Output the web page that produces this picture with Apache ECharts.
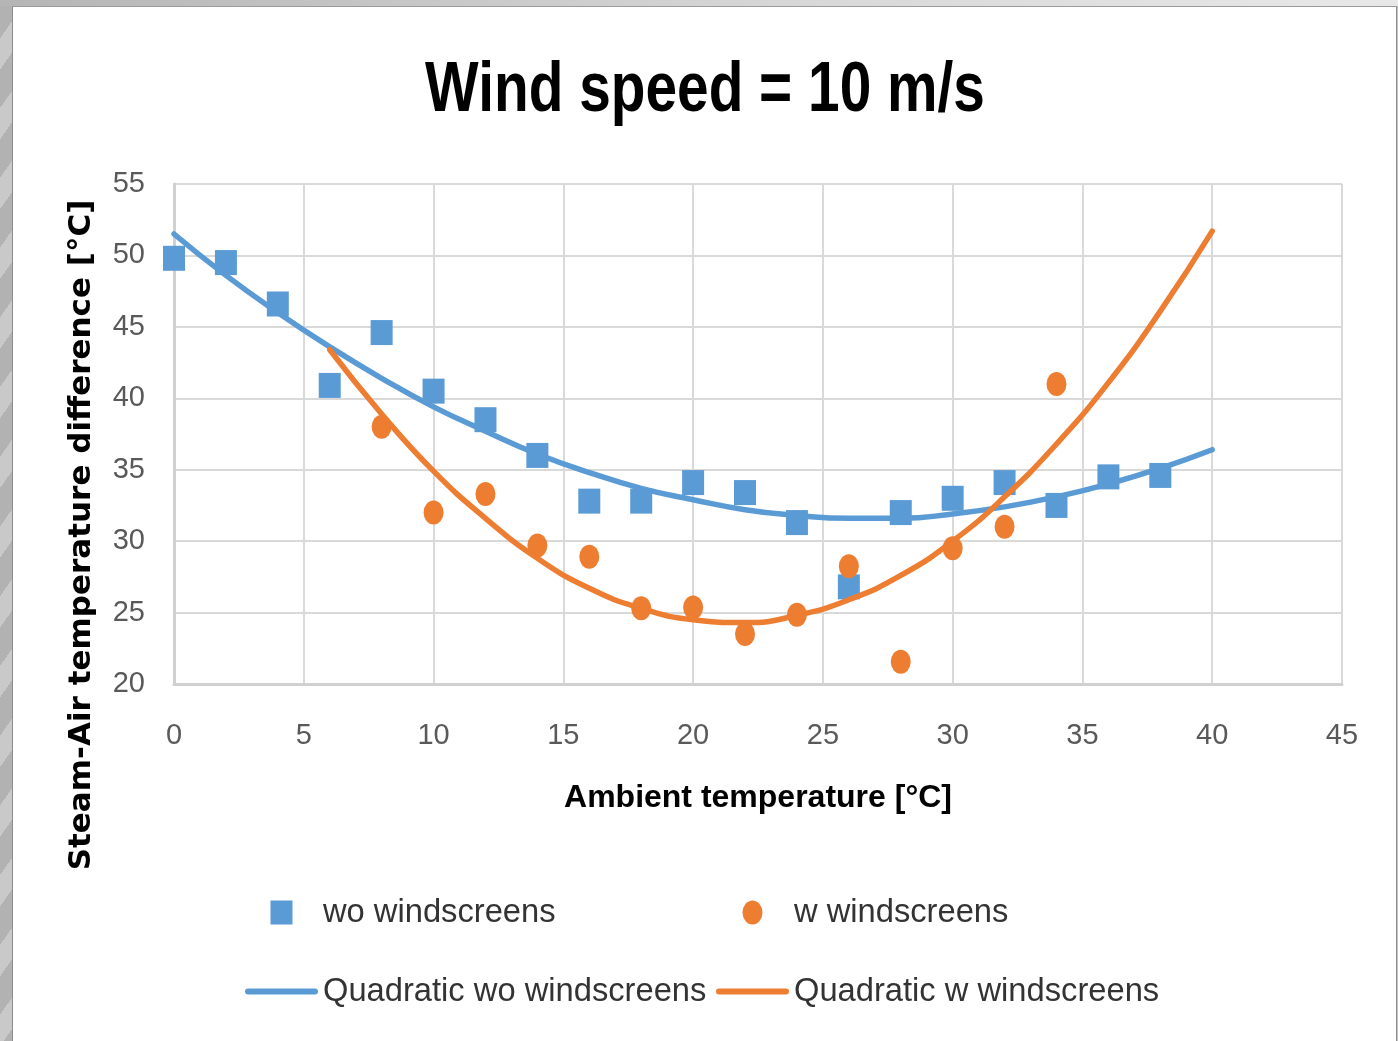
<!DOCTYPE html>
<html>
<head>
<meta charset="utf-8">
<script src="https://cdn.jsdelivr.net/npm/echarts@6/dist/echarts.min.js"></script>
<style>
  html, body { margin:0; padding:0; }
  body { width:1398px; height:1041px; overflow:hidden; position:relative; background:#c4c4c4; }
  #leftband { position:absolute; left:0; top:0; width:12px; height:1041px;
    background: repeating-linear-gradient(125deg, #b2b2b2 0px, #b2b2b2 22px, #c9c9c9 22px, #c9c9c9 40px); }
  #topband { position:absolute; left:0; top:0; width:1398px; height:6px;
    background: linear-gradient(to right, #b5b5b5, #d9d9d9 60%, #e8e8e8); }
  #frame { position:absolute; left:12px; top:6px; width:1385px; height:1035px; background:#fff;
    border-left:1px solid #8c8c8c; border-top:1px solid #9a9a9a; border-right:1px solid #8c8c8c; box-sizing:border-box; }
  #chart { position:absolute; left:0; top:0; width:1398px; height:1041px; }
</style>
</head>
<body>
<div id="leftband"></div>
<div id="topband"></div>
<div id="frame"></div>
<div id="chart"></div>
<script>
// ---- data ----
const xTicksMin = 0, xTicksMax = 45, xTickStep = 5;
const yTicksMin = 20, yTicksMax = 55, yTickStep = 5;

const woX = [0, 2, 4, 6, 8, 10, 12, 14, 16, 18, 20, 22, 24, 26, 28, 30, 32, 34, 36, 38];
const woY = [49.8, 49.5, 46.6, 40.9, 44.6, 40.5, 38.5, 36.0, 32.8, 32.8, 34.1, 33.4, 31.3, 26.8, 32.0, 33.0, 34.1, 32.5, 34.5, 34.6];

const wX = [8, 10, 12, 14, 16, 18, 20, 22, 24, 26, 28, 30, 32, 34];
const wY = [38.0, 32.0, 33.3, 29.7, 28.9, 25.3, 25.35, 23.5, 24.85, 28.25, 21.55, 29.5, 31.0, 41.0];

// trend lines
const fitWoX = [0, 2, 4, 6, 8, 10, 12, 14, 16, 18, 20, 22, 24, 26, 28, 30, 32, 34, 36, 38, 40];
const fitWoY = [51.5, 48.6, 46.0, 43.6, 41.4, 39.4, 37.7, 36.1, 34.8, 33.7, 32.9, 32.2, 31.8, 31.6, 31.6, 31.9, 32.4, 33.1, 34.0, 35.1, 36.4];

const fitWX = [6, 8, 10, 12, 14, 16, 18, 20, 22, 24, 26, 28, 30, 32, 34, 36, 38, 40];
const fitWY = [43.4, 38.9, 34.9, 31.6, 28.8, 26.7, 25.3, 24.5, 24.3, 24.8, 25.9, 27.6, 30.0, 33.1, 36.8, 41.1, 46.1, 51.7];

const names = ['wo windscreens', 'w windscreens', 'Quadratic wo windscreens', 'Quadratic w windscreens'];
const titleText = 'Wind speed = 10 m/s';
const xTitle = 'Ambient temperature [°C]';
const yTitle = 'Steam-Air temperature difference [°C]';

const BLUE = '#5B9BD5', ORANGE = '#ED7D31';
const zip = (xs, ys) => xs.map((x, i) => [x, ys[i]]);

const ICON_SQUARE = 'path://M0,0L22,0L22,24L0,24Z';
const ICON_ELLIPSE = 'path://M10,0A10,12 0 1,1 10,24A10,12 0 1,1 10,0Z';
const ICON_LINE = 'path://M3,0L70,0A3,3 0 0,1 70,6L3,6A3,3 0 0,1 3,0Z';

const chart = echarts.init(document.getElementById('chart'), null, { renderer: 'canvas' });
const legendText = { fontFamily: 'Liberation Sans, Arial, sans-serif', fontSize: 32.7, color: '#333333', lineHeight: 32 };

chart.setOption({
  animation: false,
  grid: { left: 174, top: 184, right: 56, bottom: 357, containLabel: false },
  xAxis: {
    type: 'value', min: xTicksMin, max: xTicksMax, interval: xTickStep,
    name: xTitle, nameLocation: 'middle', nameGap: 98,
    nameTextStyle: { fontFamily: 'Liberation Sans, Arial, sans-serif', fontWeight: 'bold', fontSize: 32, color: '#000' },
    axisLine: { show: true, lineStyle: { color: '#d0d0d0', width: 3 } },
    axisTick: { show: false },
    axisLabel: { margin: 37, fontFamily: 'Liberation Sans, Arial, sans-serif', fontSize: 29, color: '#595959' },
    splitLine: { show: true, lineStyle: { color: '#d9d9d9', width: 2 } }
  },
  yAxis: {
    type: 'value', min: yTicksMin, max: yTicksMax, interval: yTickStep,
    axisLine: { show: true, lineStyle: { color: '#d0d0d0', width: 3 } },
    axisTick: { show: false },
    axisLabel: { margin: 29, fontFamily: 'Liberation Sans, Arial, sans-serif', fontSize: 29, color: '#595959' },
    splitLine: { show: true, lineStyle: { color: '#d9d9d9', width: 2 } }
  },
  graphic: [
    {
      type: 'text', x: 705, y: 91, scaleX: 0.8, scaleY: 1,
      style: { text: titleText, fontFamily: 'Liberation Sans, Arial, sans-serif', fontWeight: 'bold', fontSize: 71, fill: '#000', align: 'center', verticalAlign: 'middle' }
    },
    {
      type: 'text', x: 82, y: 535, rotation: Math.PI / 2,
      style: { text: yTitle, fontFamily: 'DejaVu Sans, sans-serif', fontWeight: 'bold', fontSize: 31, fill: '#000', align: 'center', verticalAlign: 'middle' }
    }
  ],
  legend: [
    { data: [{ name: names[0], icon: ICON_SQUARE, itemStyle: { color: BLUE } },
             { name: names[2], icon: ICON_LINE, itemStyle: { color: BLUE } }],
      orient: 'vertical', left: 245, top: 896, padding: 0, itemWidth: 73, itemHeight: 24, itemGap: 46,
      symbolKeepAspect: true, textStyle: legendText, selectedMode: false },
    { data: [{ name: names[1], icon: ICON_ELLIPSE, itemStyle: { color: ORANGE } },
             { name: names[3], icon: ICON_LINE, itemStyle: { color: ORANGE } }],
      orient: 'vertical', left: 716, top: 896, padding: 0, itemWidth: 73, itemHeight: 24, itemGap: 46,
      symbolKeepAspect: true, textStyle: legendText, selectedMode: false }
  ],
  series: [
    { name: names[0], type: 'scatter', data: zip(woX, woY), symbol: 'rect', symbolSize: [22, 25], itemStyle: { color: BLUE, opacity: 1 } },
    { name: names[1], type: 'scatter', data: zip(wX, wY), symbol: 'circle', symbolSize: [20, 24], itemStyle: { color: ORANGE, opacity: 1 } },
    { name: names[2], type: 'line', data: zip(fitWoX, fitWoY), smooth: true, symbol: 'none', showSymbol: false,
      lineStyle: { color: BLUE, width: 5.5, cap: 'round' }, itemStyle: { color: BLUE } },
    { name: names[3], type: 'line', data: zip(fitWX, fitWY), smooth: true, symbol: 'none', showSymbol: false,
      lineStyle: { color: ORANGE, width: 5.5, cap: 'round' }, itemStyle: { color: ORANGE } }
  ]
});
</script>
</body>
</html>
